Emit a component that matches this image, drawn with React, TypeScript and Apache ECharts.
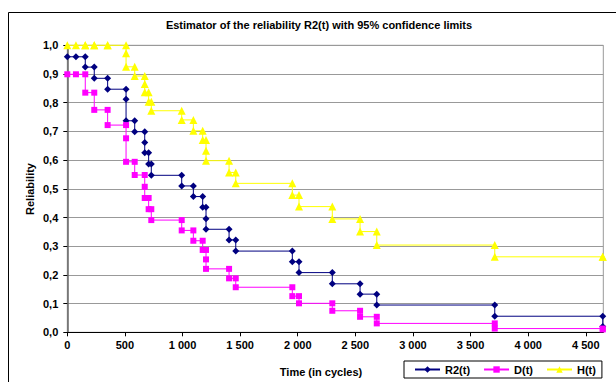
import React, { useEffect, useRef } from "react";
import * as echarts from "echarts";

const times = [0, 75, 156, 156, 234, 234, 350, 350, 510, 510, 510, 585, 585, 672, 672, 672, 706, 706, 729, 729, 993, 993, 1094, 1094, 1175, 1175, 1204, 1204, 1204, 1404, 1404, 1462, 1462, 1953, 1953, 2011, 2011, 2300, 2300, 2541, 2541, 2686, 2686, 3710, 3710, 4647, 4647];
const r2Values = [0.96, 0.96, 0.96, 0.924, 0.924, 0.885, 0.885, 0.847, 0.847, 0.812, 0.737, 0.737, 0.699, 0.699, 0.661, 0.626, 0.626, 0.586, 0.586, 0.547, 0.547, 0.51, 0.51, 0.473, 0.473, 0.436, 0.436, 0.396, 0.359, 0.359, 0.322, 0.322, 0.283, 0.283, 0.246, 0.246, 0.208, 0.208, 0.169, 0.169, 0.133, 0.133, 0.095, 0.095, 0.056, 0.056, 0.02];
const dValues = [0.899, 0.899, 0.899, 0.835, 0.835, 0.775, 0.775, 0.722, 0.722, 0.676, 0.594, 0.594, 0.548, 0.548, 0.507, 0.468, 0.468, 0.429, 0.429, 0.391, 0.391, 0.355, 0.355, 0.319, 0.319, 0.287, 0.287, 0.254, 0.221, 0.221, 0.188, 0.188, 0.157, 0.157, 0.126, 0.126, 0.101, 0.101, 0.075, 0.075, 0.054, 0.054, 0.031, 0.031, 0.013, 0.013, 0.01];
const hValues = [1, 1, 1, 1, 1, 1, 1, 1, 1, 0.972, 0.925, 0.925, 0.893, 0.893, 0.865, 0.836, 0.836, 0.803, 0.803, 0.772, 0.772, 0.74, 0.74, 0.702, 0.702, 0.67, 0.67, 0.633, 0.598, 0.598, 0.557, 0.557, 0.519, 0.519, 0.478, 0.478, 0.438, 0.438, 0.395, 0.395, 0.351, 0.351, 0.304, 0.304, 0.263, 0.263, 0.263];
const seriesNames = ["R2(t)", "D(t)", "H(t)"];

const FONT = "'Liberation Sans', Arial, sans-serif";

function fmtThousands(v: number): string {
  const s = String(Math.round(v));
  return s.replace(/\B(?=(\d{3})+(?!\d))/g, " ");
}

export default function App() {
  const ref = useRef<HTMLDivElement>(null);
  useEffect(() => {
    if (!ref.current) return;
    const chart = echarts.init(ref.current, null, { renderer: "svg" });
    const mk = (vals: number[]) => times.map((t, i) => [t, vals[i]]);
    const option: any = {
      animation: false,
      backgroundColor: "#ffffff",
      textStyle: { fontFamily: FONT },
      grid: {
        left: 67.3,
        top: 45.3,
        right: 616 - 603.3,
        bottom: 382 - 332.3,
        show: true,
        borderColor: "#999999",
        borderWidth: 1,
        backgroundColor: "transparent",
      },
      xAxis: {
        type: "value",
        min: 0,
        max: 4652,
        interval: 500,
        axisLine: { show: true, lineStyle: { color: "#000000", width: 1 } },
        axisTick: { show: true, length: 4, lineStyle: { color: "#000000" } },
        splitLine: { show: false },
        axisLabel: {
          margin: 7,
          color: "#000000",
          fontWeight: "bold",
          fontSize: 11,
          fontFamily: FONT,
          showMaxLabel: false,
          formatter: (v: number) => (v % 500 === 0 ? fmtThousands(v) : ""),
        },
      },
      yAxis: {
        type: "value",
        min: 0,
        max: 1,
        interval: 0.1,
        axisLine: { show: true, lineStyle: { color: "#666666", width: 1.5 } },
        axisTick: { show: true, length: 4, lineStyle: { color: "#000000" } },
        splitLine: { show: true, lineStyle: { color: "#999999", width: 1 } },
        axisLabel: {
          margin: 9,
          color: "#000000",
          fontWeight: "bold",
          fontSize: 11,
          fontFamily: FONT,
          formatter: (v: number) => v.toFixed(1).replace(".", ","),
        },
      },
      legend: {
        left: 404,
        top: 361,
        orient: "horizontal",
        padding: [3, 6, 3, 10],
        borderColor: "#000000",
        borderWidth: 1,
        itemGap: 13,
        itemWidth: 25,
        itemHeight: 8,
        textStyle: { fontWeight: "bold", fontSize: 11, color: "#000000", fontFamily: FONT },
        data: seriesNames,
      },
      graphic: [
        {
          type: "rect",
          shape: { x: 8.5, y: 12.5, width: 640, height: 400 },
          style: { fill: "none", stroke: "#000000", lineWidth: 1 },
          silent: true,
          z: -1,
        },
        {
          type: "text",
          x: 319,
          y: 25,
          style: {
            text: "Estimator of the reliability R2(t) with 95% confidence limits",
            fontWeight: "bold",
            fontSize: 11,
            fontFamily: FONT,
            fill: "#000000",
            textAlign: "center",
            textVerticalAlign: "middle",
          },
        },
        {
          type: "text",
          x: 30,
          y: 189,
          rotation: Math.PI / 2,
          style: {
            text: "Reliability",
            fontWeight: "bold",
            fontSize: 11,
            fontFamily: FONT,
            fill: "#000000",
            textAlign: "center",
            textVerticalAlign: "middle",
          },
        },
        {
          type: "text",
          x: 321,
          y: 372,
          style: {
            text: "Time (in cycles)",
            fontWeight: "bold",
            fontSize: 11,
            fontFamily: FONT,
            fill: "#000000",
            textAlign: "center",
            textVerticalAlign: "middle",
          },
        },
      ],
      series: [
        {
          name: seriesNames[0],
          type: "line",
          data: mk(r2Values),
          symbol: "diamond",
          symbolSize: 7,
          showAllSymbol: true,
          clip: false,
          itemStyle: { color: "#000080" },
          lineStyle: { color: "#000080", width: 1 },
        },
        {
          name: seriesNames[1],
          type: "line",
          data: mk(dValues),
          symbol: "rect",
          symbolSize: 6,
          showAllSymbol: true,
          clip: false,
          itemStyle: { color: "#FF00FF" },
          lineStyle: { color: "#FF00FF", width: 1 },
        },
        {
          name: seriesNames[2],
          type: "line",
          data: mk(hValues),
          symbol: "triangle",
          symbolSize: 8,
          showAllSymbol: true,
          clip: false,
          itemStyle: { color: "#FFFF00" },
          lineStyle: { color: "#FFFF00", width: 1 },
        },
      ],
    };
    chart.setOption(option);
    return () => chart.dispose();
  }, []);
  return (
    <div
      ref={ref}
      style={{ position: "absolute", left: 0, top: 0, width: 616, height: 382 }}
    />
  );
}
